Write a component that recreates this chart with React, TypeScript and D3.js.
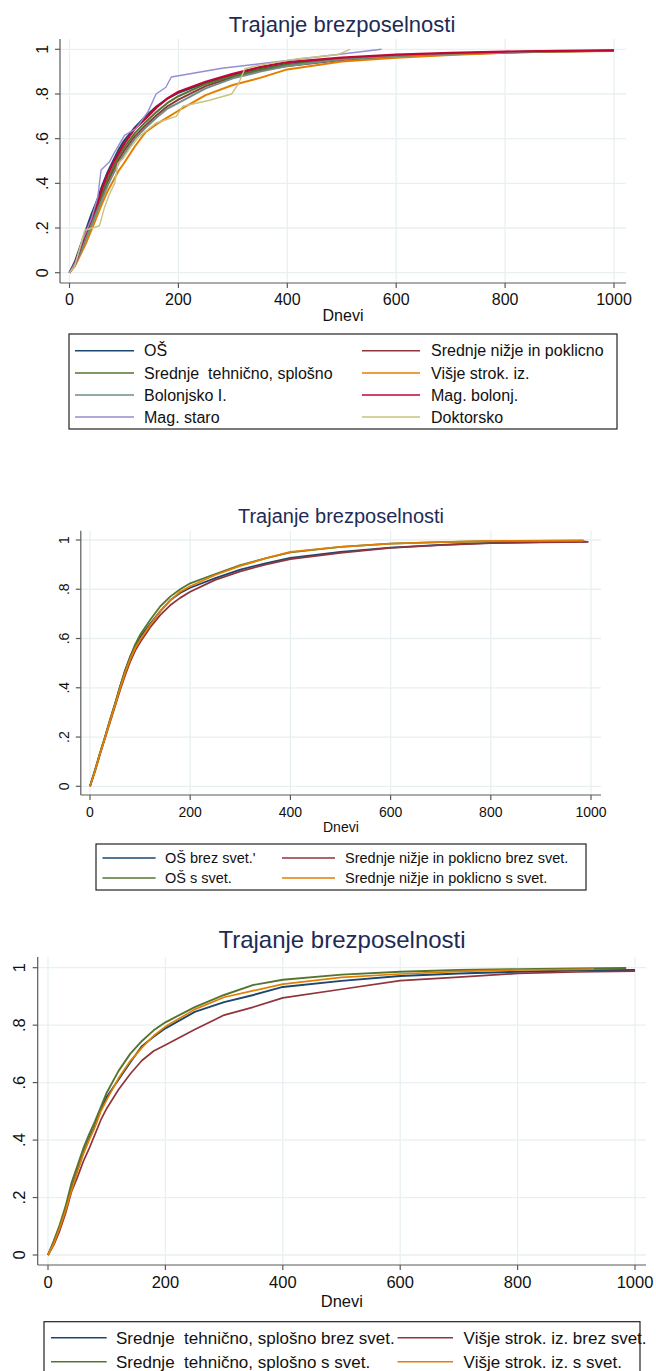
import React from "react";
import * as d3 from "d3";

// ---------- data: cumulative share of people who found a job, by day ----------
const TITLE = "Trajanje brezposelnosti";
const X_LABEL = "Dnevi";
const X_TICKS = [0, 200, 400, 600, 800, 1000];
const Y_TICKS = [0, 0.2, 0.4, 0.6, 0.8, 1];
const Y_TICK_LABELS = ["0", ".2", ".4", ".6", ".8", "1"];

// chart 1 – by education level
const DAYS_1 = [0, 10, 20, 30, 40, 50, 60, 70, 80, 90, 100, 120, 140, 160, 180, 200, 250, 300, 350, 400, 500, 600, 700, 800, 900, 1000];
const OS = [0, 0.05, 0.12, 0.19, 0.26, 0.32, 0.39, 0.45, 0.5, 0.55, 0.59, 0.65, 0.7, 0.745, 0.78, 0.805, 0.85, 0.885, 0.912, 0.935, 0.958, 0.972, 0.981, 0.987, 0.991, 0.994];
const SREDNJE_NIZJE = [0, 0.04, 0.1, 0.16, 0.22, 0.28, 0.345, 0.405, 0.455, 0.505, 0.545, 0.61, 0.66, 0.705, 0.745, 0.775, 0.835, 0.875, 0.905, 0.925, 0.952, 0.968, 0.978, 0.985, 0.99, 0.993];
const SREDNJE_TEHNICNO = [0, 0.04, 0.1, 0.17, 0.23, 0.29, 0.36, 0.42, 0.47, 0.52, 0.56, 0.625, 0.675, 0.72, 0.76, 0.79, 0.845, 0.88, 0.91, 0.932, 0.957, 0.971, 0.981, 0.988, 0.992, 0.994];
const VISJE = [0, 0.03, 0.08, 0.13, 0.19, 0.25, 0.31, 0.365, 0.41, 0.455, 0.49, 0.565, 0.63, 0.665, 0.695, 0.725, 0.795, 0.84, 0.872, 0.91, 0.945, 0.962, 0.975, 0.985, 0.99, 0.992];
const BOLONJSKO = [0, 0.035, 0.09, 0.15, 0.21, 0.27, 0.33, 0.39, 0.44, 0.49, 0.53, 0.6, 0.65, 0.695, 0.735, 0.76, 0.825, 0.87, 0.9, 0.925, 0.955, 0.97, 0.98, 0.987, 0.991, 0.993];
const MAG_BOLONJ = [0, 0.04, 0.11, 0.18, 0.24, 0.3, 0.38, 0.44, 0.49, 0.535, 0.575, 0.645, 0.69, 0.74, 0.78, 0.81, 0.855, 0.89, 0.92, 0.943, 0.963, 0.976, 0.984, 0.99, 0.993, 0.995];
const DAYS_MAG_STARO = [0, 12, 24, 40, 52, 58, 73, 83, 101, 122, 144, 159, 177, 187, 280, 573];
const MAG_STARO = [0, 0.05, 0.145, 0.24, 0.34, 0.46, 0.495, 0.54, 0.615, 0.645, 0.72, 0.8, 0.83, 0.876, 0.915, 1];
const DAYS_DOKTORSKO = [0, 9, 28, 55, 64, 73, 83, 89, 98, 113, 128, 159, 196, 208, 257, 298, 310, 322, 347, 420, 494, 515];
const DOKTORSKO = [0, 0.025, 0.19, 0.21, 0.29, 0.35, 0.4, 0.49, 0.51, 0.565, 0.61, 0.67, 0.7, 0.745, 0.772, 0.8, 0.845, 0.913, 0.928, 0.958, 0.977, 1];

// chart 2 – primary and lower secondary, with / without counselling
const DAYS_2 = [0, 10, 20, 30, 40, 50, 60, 70, 80, 90, 100, 120, 140, 160, 180, 200, 250, 300, 350, 400, 500, 600, 700, 800, 900];
const OS_BREZ = [0, 0.066, 0.135, 0.2, 0.27, 0.335, 0.405, 0.47, 0.525, 0.57, 0.605, 0.66, 0.71, 0.755, 0.785, 0.806, 0.845, 0.88, 0.905, 0.927, 0.952, 0.969, 0.98, 0.988, 0.991];
const NIZJE_BREZ = [0, 0.06, 0.13, 0.195, 0.26, 0.325, 0.39, 0.45, 0.505, 0.55, 0.585, 0.645, 0.695, 0.735, 0.765, 0.79, 0.838, 0.873, 0.9, 0.922, 0.948, 0.968, 0.979, 0.987, 0.99];
const OS_S = [0, 0.066, 0.135, 0.2, 0.27, 0.335, 0.405, 0.47, 0.525, 0.575, 0.615, 0.675, 0.73, 0.77, 0.8, 0.824, 0.862, 0.898, 0.925, 0.95, 0.972, 0.985, 0.991, 0.995, 0.996];
const NIZJE_S = [0, 0.063, 0.133, 0.197, 0.265, 0.33, 0.397, 0.46, 0.515, 0.56, 0.595, 0.655, 0.71, 0.755, 0.79, 0.812, 0.858, 0.895, 0.925, 0.952, 0.972, 0.985, 0.991, 0.996, 0.997];
const END_2 = { osBrez: [990, 0.993], nizjeBrez: [995, 0.992], osS: [985, 0.997], nizjeS: [985, 0.998] };

// chart 3 – upper secondary and higher vocational, with / without counselling
const DAYS_3 = [0, 10, 20, 30, 40, 50, 60, 70, 80, 90, 100, 120, 140, 160, 180, 200, 250, 300, 350, 400, 500, 600, 700, 800, 900];
const TEH_BREZ = [0, 0.045, 0.1, 0.16, 0.23, 0.295, 0.355, 0.405, 0.45, 0.51, 0.55, 0.61, 0.67, 0.727, 0.76, 0.789, 0.846, 0.88, 0.905, 0.933, 0.954, 0.971, 0.98, 0.986, 0.99];
const VISJE_BREZ = [0, 0.035, 0.085, 0.145, 0.22, 0.27, 0.325, 0.37, 0.42, 0.47, 0.51, 0.575, 0.63, 0.677, 0.71, 0.731, 0.785, 0.835, 0.863, 0.895, 0.925, 0.955, 0.967, 0.98, 0.985];
const TEH_S = [0, 0.05, 0.105, 0.17, 0.25, 0.31, 0.37, 0.42, 0.465, 0.515, 0.565, 0.64, 0.7, 0.745, 0.782, 0.81, 0.863, 0.905, 0.94, 0.958, 0.976, 0.986, 0.992, 0.995, 0.997];
const VISJE_S = [0, 0.04, 0.095, 0.155, 0.225, 0.29, 0.35, 0.4, 0.445, 0.5, 0.54, 0.615, 0.675, 0.722, 0.763, 0.795, 0.855, 0.897, 0.92, 0.943, 0.966, 0.978, 0.987, 0.992, 0.994];
const END_3 = { tehBrez: [1000, 0.992], visjeBrez: [1000, 0.988], tehS: [985, 0.999], visjeS: [930, 0.995] };

// ---------- colours ----------
const C = {
  navy: "#1a476f",
  maroon: "#90353b",
  green: "#55752f",
  orange: "#e37e00",
  teal: "#6e8e84",
  cranberry: "#c10534",
  lavender: "#938dd2",
  khaki: "#cac27e",
};
const GRID = "#e8f0f1";
const AXIS = "#5a5a5a";
const TITLE_COLOR = "#1e2b55";
const FONT = "'Liberation Sans', Arial, Helvetica, sans-serif";

type Pt = [number, number];
const zip = (days: number[], vals: number[], end?: number[]): Pt[] => {
  const pts: Pt[] = days.map((d, i) => [d, vals[i]]);
  if (end) pts.push([end[0], end[1]]);
  return pts;
};

type Series = { name: string; color: string; points: Pt[]; width: number };

type Layout = {
  x0: number; x1: number; // pixel of day 0 / day 1000
  y0: number; y1: number; // pixel of value 0 / value 1
  axisLeft: number; axisBottom: number; plotTop: number; plotRight: number;
  titleX: number; titleY: number; titleSize: number;
  tickSize: number; yLabelX: number; xLabelY: number; axisTitleY: number;
  legend: {
    left: number; top: number; right: number; bottom: number; rows: number[];
    cols: { lineX0: number; lineX1: number; textX: number }[];
    size: number;
  };
};

function Chart({ layout, series, legendOrder }: { layout: Layout; series: Series[]; legendOrder: number[][] }) {
  const L = layout;
  const x = d3.scaleLinear().domain([0, 1000]).range([L.x0, L.x1]);
  const y = d3.scaleLinear().domain([0, 1]).range([L.y0, L.y1]);
  const line = d3.line<Pt>().x((p) => x(p[0])).y((p) => y(p[1])).curve(d3.curveLinear);
  const lg = L.legend;
  return (
    <g fontFamily={FONT}>
      <text x={L.titleX} y={L.titleY} fontSize={L.titleSize} fill={TITLE_COLOR} textAnchor="middle">
        {TITLE}
      </text>
      {/* grid */}
      {Y_TICKS.map((t) => (
        <line key={"gy" + t} x1={L.axisLeft} x2={L.plotRight} y1={y(t)} y2={y(t)} stroke={GRID} strokeWidth={1.3} />
      ))}
      {X_TICKS.map((t) => (
        <line key={"gx" + t} x1={x(t)} x2={x(t)} y1={L.plotTop} y2={L.axisBottom} stroke={GRID} strokeWidth={1.3} />
      ))}
      {/* curves */}
      {series.map((s) => (
        <path key={s.name} d={line(s.points) || ""} fill="none" stroke={s.color} strokeWidth={s.width} strokeLinejoin="round" />
      ))}
      {/* axes */}
      <line x1={L.axisLeft} x2={L.axisLeft} y1={L.plotTop} y2={L.axisBottom} stroke={AXIS} strokeWidth={1.2} />
      <line x1={L.axisLeft} x2={L.plotRight} y1={L.axisBottom} y2={L.axisBottom} stroke={AXIS} strokeWidth={1.2} />
      {Y_TICKS.map((t, i) => (
        <g key={"ty" + t}>
          <line x1={L.axisLeft - 5} x2={L.axisLeft} y1={y(t)} y2={y(t)} stroke={AXIS} strokeWidth={1.2} />
          <text
            transform={`translate(${L.yLabelX},${y(t)}) rotate(-90)`}
            fontSize={L.tickSize}
            textAnchor="middle"
            fill="#111"
          >
            {Y_TICK_LABELS[i]}
          </text>
        </g>
      ))}
      {X_TICKS.map((t) => (
        <g key={"tx" + t}>
          <line x1={x(t)} x2={x(t)} y1={L.axisBottom} y2={L.axisBottom + 5} stroke={AXIS} strokeWidth={1.2} />
          <text x={x(t)} y={L.xLabelY} fontSize={L.tickSize} textAnchor="middle" fill="#111">
            {t}
          </text>
        </g>
      ))}
      <text x={(L.axisLeft + L.plotRight) / 2} y={L.axisTitleY} fontSize={L.tickSize} textAnchor="middle" fill="#111">
        {X_LABEL}
      </text>
      {/* legend */}
      <rect x={lg.left} y={lg.top} width={lg.right - lg.left} height={lg.bottom - lg.top} fill="white" stroke="#222" strokeWidth={1.2} />
      {legendOrder.map((row, ri) =>
        row.map((si, ci) => {
          const s = series[si];
          const col = lg.cols[ci];
          const cy = lg.rows[ri];
          return (
            <g key={s.name}>
              <line x1={col.lineX0} x2={col.lineX1} y1={cy} y2={cy} stroke={s.color} strokeWidth={1.6} />
              <text x={col.textX} y={cy + lg.size * 0.36} fontSize={lg.size} fill="#111" style={{ whiteSpace: "pre" }}>
                {s.name}
              </text>
            </g>
          );
        })
      )}
    </g>
  );
}

const layout1: Layout = {
  x0: 69.5, x1: 614, y0: 272.7, y1: 49.3,
  axisLeft: 60, axisBottom: 283, plotTop: 39, plotRight: 626,
  titleX: 342, titleY: 32, titleSize: 22,
  tickSize: 16, yLabelX: 47.5, xLabelY: 305, axisTitleY: 321,
  legend: {
    left: 69, top: 334, right: 617, bottom: 429, rows: [350.7, 373, 395, 417],
    cols: [
      { lineX0: 75, lineX1: 134, textX: 144 },
      { lineX0: 362, lineX1: 420, textX: 431 },
    ],
    size: 16,
  },
};

const layout2: Layout = {
  x0: 90, x1: 591, y0: 786.3, y1: 540,
  axisLeft: 80.8, axisBottom: 795, plotTop: 530.7, plotRight: 601,
  titleX: 341, titleY: 523, titleSize: 20,
  tickSize: 14, yLabelX: 68.5, xLabelY: 816.5, axisTitleY: 831.5,
  legend: {
    left: 96, top: 844, right: 586, bottom: 890, rows: [858, 878],
    cols: [
      { lineX0: 102.5, lineX1: 155.6, textX: 165 },
      { lineX0: 282, lineX1: 335, textX: 345 },
    ],
    size: 14.5,
  },
};

const layout3: Layout = {
  x0: 48, x1: 635, y0: 1255, y1: 967.7,
  axisLeft: 37.7, axisBottom: 1265, plotTop: 957, plotRight: 646,
  titleX: 342, titleY: 948, titleSize: 24,
  tickSize: 16.5, yLabelX: 25, xLabelY: 1288, axisTitleY: 1307,
  legend: {
    left: 44, top: 1321.7, right: 640, bottom: 1390, rows: [1337.7, 1361.7],
    cols: [
      { lineX0: 51, lineX1: 106.7, textX: 116 },
      { lineX0: 397.5, lineX1: 453, textX: 463.6 },
    ],
    size: 17,
  },
};

const series1: Series[] = [
  { name: "OŠ", color: C.navy, points: zip(DAYS_1, OS), width: 2 },
  { name: "Srednje nižje in poklicno", color: C.maroon, points: zip(DAYS_1, SREDNJE_NIZJE), width: 2 },
  { name: "Srednje  tehnično, splošno", color: C.green, points: zip(DAYS_1, SREDNJE_TEHNICNO), width: 2 },
  { name: "Višje strok. iz.", color: C.orange, points: zip(DAYS_1, VISJE), width: 2 },
  { name: "Bolonjsko I.", color: C.teal, points: zip(DAYS_1, BOLONJSKO), width: 2 },
  { name: "Mag. bolonj.", color: C.cranberry, points: zip(DAYS_1, MAG_BOLONJ), width: 2.2 },
  { name: "Mag. staro", color: C.lavender, points: zip(DAYS_MAG_STARO, MAG_STARO), width: 1.4 },
  { name: "Doktorsko", color: C.khaki, points: zip(DAYS_DOKTORSKO, DOKTORSKO), width: 1.4 },
];

const series2: Series[] = [
  { name: "OŠ brez svet.'", color: C.navy, points: zip(DAYS_2, OS_BREZ, END_2.osBrez), width: 1.8 },
  { name: "Srednje nižje in poklicno brez svet.", color: C.maroon, points: zip(DAYS_2, NIZJE_BREZ, END_2.nizjeBrez), width: 1.8 },
  { name: "OŠ s svet.", color: C.green, points: zip(DAYS_2, OS_S, END_2.osS), width: 1.8 },
  { name: "Srednje nižje in poklicno s svet.", color: C.orange, points: zip(DAYS_2, NIZJE_S, END_2.nizjeS), width: 1.8 },
];

const series3: Series[] = [
  { name: "Srednje  tehnično, splošno brez svet.", color: C.navy, points: zip(DAYS_3, TEH_BREZ, END_3.tehBrez), width: 1.9 },
  { name: "Višje strok. iz. brez svet.", color: C.maroon, points: zip(DAYS_3, VISJE_BREZ, END_3.visjeBrez), width: 1.7 },
  { name: "Srednje  tehnično, splošno s svet.", color: C.green, points: zip(DAYS_3, TEH_S, END_3.tehS), width: 1.9 },
  { name: "Višje strok. iz. s svet.", color: C.orange, points: zip(DAYS_3, VISJE_S, END_3.visjeS), width: 1.7 },
];

export default function App() {
  return (
    <div style={{ position: "absolute", left: 0, top: 0 }}>
      <svg width={656} height={1371} viewBox="0 0 656 1371" style={{ display: "block", background: "white" }}>
        <rect x={0} y={0} width={656} height={1371} fill="white" />
        <Chart layout={layout1} series={series1} legendOrder={[[0, 1], [2, 3], [4, 5], [6, 7]]} />
        <Chart layout={layout2} series={series2} legendOrder={[[0, 1], [2, 3]]} />
        <Chart layout={layout3} series={series3} legendOrder={[[0, 1], [2, 3]]} />
      </svg>
    </div>
  );
}
